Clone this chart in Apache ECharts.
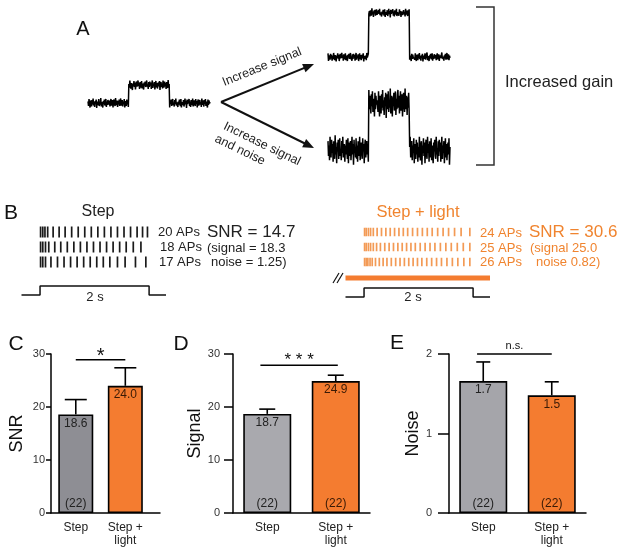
<!DOCTYPE html>
<html><head><meta charset="utf-8">
<script src="https://cdn.jsdelivr.net/npm/echarts@6/dist/echarts.min.js"></script>
<style>html,body{margin:0;padding:0;background:#fff}#c{width:617px;height:549px}</style>
</head><body><div id="c"></div>
<script>
// ---------- Panel A: schematic traces (hand-typed noise, tenths) ----------
const traceNoise = [3,-6,8,-2,-9,5,1,-7,6,-3,9,-5,2,-8,4,-1,7,-10,3,6,-4,8,-6,1,-3,10,-7,2,5,-9,4,-2,7,-5,0,8,-8,3,-4,6,
 9,-3,5,-7,2,8,-5,-1,6,-9,3,7,-2,-6,10,-4,1,5,-8,4,-3,7,-6,2,9,-5,0,6,-7,3,-2,8,-9,4,1,-6,7,-3,5,-8,
 2,-5,9,-1,-7,4,6,-10,3,-2,8,-4,5,-9,1,7,-3,-6,9,-2,4,-8,6,0,-5,8,-7,3,2,-9,5,-1,7,-4,-6,9,-3,1,-8,6,
 -4,7,-1,5,-8,2,9,-6,3,-2,6,-9,1,8,-5,4,-7,0,5,-3,8,-10,2,6,-4,3,-7,9,-1,-5,7,-2,4,-8,6,1,-6,10,-3,2,
 -9,5,-1,7,-6,3,8,-4,0,-7,6,-2,9,-5,1,4,-8,3,-3,7,-1,-6,8,-9,2,5,-4,6,-7,0,9,-3,4,-10,7,-2,1,-5,8,-6,
 3,-8,6,2,-4,9,-7,1,5,-2,-6,8,-1,4,-9,3,7,-5,0,6,-3,2,-8,9,-4,5,-1,-7,6,-2,8,-6,3,1,-9,7,-4,5,-1,2];
const traceStepOn = 80, traceStepOff = 160;     // sample indices of step on / off
const traceSignal = [1.0, 2.45, 2.6];           // baseline trace, increased signal, increased signal+noise
const traceNoiseAmp = [0.28, 0.25, 0.82];
const traceShift = [0, 71, 143];

// ---------- Panel B: spike rasters (s) ----------
const stepSpikes = [
 [0.01,0.05,0.09,0.14,0.24,0.35,0.46,0.58,0.70,0.82,0.94,1.06,1.18,1.30,1.42,1.54,1.66,1.78,1.88,1.97],
 [0.01,0.05,0.10,0.16,0.27,0.38,0.50,0.62,0.74,0.86,0.98,1.10,1.22,1.34,1.46,1.58,1.71,1.85],
 [0.01,0.05,0.10,0.20,0.32,0.44,0.56,0.68,0.80,0.92,1.04,1.16,1.28,1.42,1.56,1.75,1.94]
];
const lightSpikes = [
 [0.01,0.04,0.08,0.12,0.17,0.24,0.32,0.40,0.48,0.56,0.64,0.72,0.80,0.89,0.98,1.07,1.16,1.25,1.35,1.45,1.55,1.66,1.78,1.94],
 [0.01,0.04,0.08,0.12,0.17,0.23,0.30,0.38,0.46,0.54,0.62,0.70,0.78,0.86,0.94,1.03,1.12,1.21,1.30,1.40,1.50,1.60,1.71,1.82,1.94],
 [0.01,0.04,0.07,0.11,0.15,0.21,0.28,0.35,0.42,0.50,0.58,0.66,0.74,0.82,0.90,0.98,1.06,1.15,1.24,1.33,1.42,1.52,1.62,1.72,1.83,1.94]
];
const stimTime = [-0.34, 0, 0, 2, 2, 2.31];
const stimLevel = [0, 0, 1, 1, 0, 0];
const lightTime = [-0.34, 2.31];
const stepStats = ['SNR = 14.7', '(signal = 18.3', 'noise = 1.25)'];
const lightStats = ['SNR = 30.6', '(signal 25.0', 'noise 0.82)'];

// ---------- Panels C-E: bar data ----------
const barCategories = ['Step', 'Step +\nlight'];
const snrMean = [18.6, 24.0],  snrSem = [2.8, 3.4],  snrN = [22, null];
const sigMean = [18.7, 24.9],  sigSem = [0.9, 1.1],  sigN = [22, 22];
const noiseMean = [1.66, 1.48], noiseSem = [0.24, 0.17], noiseN = [22, 22];
const sigMarks = ['*', '* * *', 'n.s.'];

const F = '"Liberation Sans", Arial, Helvetica, sans-serif';
const ORANGE = '#f47c30', ORANGE_TXT = '#f0842f', ORANGE_TICK = '#f39a55';

const grids = [], xAxes = [], yAxes = [], series = [];
function addGrid(g, xa, ya) {
  grids.push(Object.assign({outerBoundsMode: 'none', containLabel: false}, g));
  const i = grids.length - 1;
  xAxes.push(Object.assign({gridIndex: i}, xa));
  yAxes.push(Object.assign({gridIndex: i}, ya));
  return i;
}

// Panel A traces
const traceGrids = [
  {left: 88, top: 58, width: 122, height: 72, ymin: -1.5, ymax: 2.5},
  {left: 328, top: 3, width: 122, height: 81, ymin: -1.5, ymax: 3.0},
  {left: 328, top: 69, width: 122, height: 108, ymin: -1.5, ymax: 4.5}
];
traceGrids.forEach((g, k) => {
  const gi = addGrid({left: g.left, top: g.top, width: g.width, height: g.height},
    {type: 'value', min: 0, max: traceNoise.length - 1, show: false},
    {type: 'value', min: g.ymin, max: g.ymax, show: false});
  const data = traceNoise.map((_, i) => {
    const n = traceNoise[(i + traceShift[k]) % traceNoise.length];
    const lvl = (i >= traceStepOn && i < traceStepOff) ? traceSignal[k] : 0;
    return [i, lvl + traceNoiseAmp[k] * n / 10];
  });
  series.push({type: 'line', xAxisIndex: gi, yAxisIndex: gi, data, symbol: 'none', clip: false,
    lineStyle: {color: '#000', width: 1.5}, silent: true});
});

// Panel B rasters + stimulus
function raster(left, spikes, color, h) {
  const gi = addGrid({left, top: 224.5, width: 144.5, height: 45},
    {type: 'value', min: stimTime[0], max: stimTime[stimTime.length - 1], show: false},
    {type: 'value', min: 0.5, max: 3.5, inverse: true, show: false});
  const data = [];
  spikes.forEach((row, r) => row.forEach(t => data.push([t, r + 1])));
  series.push({type: 'scatter', xAxisIndex: gi, yAxisIndex: gi, data, symbol: 'rect',
    symbolSize: [1.7, h], itemStyle: {color, opacity: 1}, silent: true});
}
function stim(left, top, height, ymax, withLight) {
  const gi = addGrid({left, top, width: 144.5, height},
    {type: 'value', min: stimTime[0], max: stimTime[stimTime.length - 1], show: false},
    {type: 'value', min: -0.5, max: ymax, show: false});
  series.push({type: 'line', xAxisIndex: gi, yAxisIndex: gi, symbol: 'none', clip: false,
    data: stimTime.map((t, i) => [t, stimLevel[i]]), lineStyle: {color: '#111', width: 1.5}, silent: true});
  if (withLight) {
    series.push({type: 'line', xAxisIndex: gi, yAxisIndex: gi, symbol: 'none', clip: false,
      data: lightTime.map(t => [t, 2.1]), lineStyle: {color: ORANGE, width: 5, cap: 'butt'}, silent: true});
  }
}
raster(21.5, stepSpikes, '#1a1a1a', 11);
raster(345.5, lightSpikes, ORANGE_TICK, 8.5);
stim(21.5, 281.5, 18, 1.5, false);
stim(345.5, 274.5, 27, 2.5, true);

// Panels C-E
const panels = [
  {left: 51, width: 109, xmax: 1.7, ymax: 30, interval: 10, mean: snrMean, sem: snrSem, n: snrN, name: 'SNR',
   nameGap: 25, tickLen: 5, labelMargin: 6, barW: 35, capW: 22, gray: '#8e8e94', sigX: [0, 1], sigY: 28.9, sigFont: 20, sigOff: 3},
  {left: 233, width: 137, xmax: 1.5, ymax: 30, interval: 10, mean: sigMean, sem: sigSem, n: sigN, name: 'Signal',
   nameGap: 27, tickLen: 9, labelMargin: 13, barW: 48, capW: 16, gray: '#a9a9ae', sigX: [-0.1, 1.03], sigY: 27.9, sigFont: 17, sigOff: 5},
  {left: 449, width: 137, xmax: 1.5, ymax: 2, interval: 1, mean: noiseMean, sem: noiseSem, n: noiseN, name: 'Noise',
   nameGap: 22, tickLen: 11, labelMargin: 17, barW: 48, capW: 14, gray: '#a5a5aa', sigX: [-0.09, 1.0], sigY: 2.0, sigFont: 11, sigOff: 8}
];
panels.forEach((p, k) => {
  const gi = addGrid({left: p.left, top: 354, width: p.width, height: 159},
    {type: 'value', min: -0.5, max: p.xmax, splitLine: {show: false},
     axisLine: {show: true, onZero: false, lineStyle: {color: '#000', width: 1.5}},
     axisTick: {show: false},
     axisLabel: {show: true, customValues: [0, 1], formatter: v => barCategories[Math.round(v)],
       fontSize: 12, color: '#222', margin: 8, lineHeight: 13, fontFamily: F}},
    {type: 'value', min: 0, max: p.ymax, interval: p.interval, splitLine: {show: false},
     axisLine: {show: true, onZero: false, lineStyle: {color: '#000', width: 1.5}},
     axisTick: {show: true, length: p.tickLen, lineStyle: {color: '#000', width: 1.5}},
     axisLabel: {fontSize: 11, color: '#333', margin: p.labelMargin, fontFamily: F},
     name: p.name, nameLocation: 'middle', nameGap: p.nameGap,
     nameTextStyle: {fontSize: 18, color: '#111', fontFamily: F}});
  const colors = [p.gray, ORANGE];
  const txtColors = ['#222', '#3a1a05'];
  series.push({type: 'bar', xAxisIndex: gi, yAxisIndex: gi, barWidth: p.barW, z: 2, silent: true,
    data: p.mean.map((v, i) => ({value: [i, v], itemStyle: {color: colors[i]}, label: {color: txtColors[i]}})),
    itemStyle: {borderColor: '#000', borderWidth: 1.6},
    label: {show: true, position: 'insideTop', distance: 3, fontSize: 12, fontFamily: F,
      formatter: q => q.value[1].toFixed(1)}});
  series.push({type: 'custom', xAxisIndex: gi, yAxisIndex: gi, z: 3, silent: true, clip: false,
    data: p.mean.map((v, i) => [i, v, v + p.sem[i]]),
    renderItem: (params, api) => {
      const a = api.coord([api.value(0), api.value(1)]);
      const b = api.coord([api.value(0), api.value(2)]);
      return {type: 'group', children: [
        {type: 'line', shape: {x1: a[0], y1: a[1], x2: b[0], y2: b[1]}, style: {stroke: '#000', lineWidth: 1.6}},
        {type: 'line', shape: {x1: b[0] - p.capW / 2, y1: b[1], x2: b[0] + p.capW / 2, y2: b[1]}, style: {stroke: '#000', lineWidth: 1.6}}
      ]};
    }});
  series.push({type: 'custom', xAxisIndex: gi, yAxisIndex: gi, z: 4, silent: true, clip: false,
    data: p.n.map((n, i) => [i, 0, n]).filter(d => d[2] != null),
    renderItem: (params, api) => {
      const i = api.value(0);
      const c = api.coord([i, 0]);
      return {type: 'text', style: {text: '(' + api.value(2) + ')', x: c[0], y: c[1] - 9, align: 'center',
        verticalAlign: 'middle', fill: txtColors[i], font: '12px ' + F}};
    }});
  series.push({type: 'custom', xAxisIndex: gi, yAxisIndex: gi, z: 4, silent: true, clip: false,
    data: [[p.sigX[0], p.sigX[1], p.sigY]],
    renderItem: (params, api) => {
      const a = api.coord([api.value(0), api.value(2)]);
      const b = api.coord([api.value(1), api.value(2)]);
      return {type: 'group', children: [
        {type: 'line', shape: {x1: a[0], y1: a[1], x2: b[0], y2: b[1]}, style: {stroke: '#000', lineWidth: 1.5}},
        {type: 'text', style: {text: sigMarks[k], x: (a[0] + b[0]) / 2, y: a[1] - p.sigOff, align: 'center',
          verticalAlign: 'middle', fill: '#111', font: p.sigFont + 'px ' + F}}
      ]};
    }});
});

// ---------- annotations ----------
function txt(text, x, y, size, opt) {
  opt = opt || {};
  return {type: 'text', x, y, rotation: opt.rot || 0, silent: true,
    style: {text, font: size + 'px ' + F, fill: opt.fill || '#111', align: opt.align || 'left', verticalAlign: 'middle'}};
}
function arrow(x1, y1, x2, y2) {
  const dx = x2 - x1, dy = y2 - y1, L = Math.hypot(dx, dy), ux = dx / L, uy = dy / L;
  const hl = 11, hw = 4.5;
  const bx = x2 - ux * hl, by = y2 - uy * hl;
  return [
    {type: 'line', silent: true, shape: {x1, y1, x2: bx + ux * 2, y2: by + uy * 2}, style: {stroke: '#111', lineWidth: 2}},
    {type: 'polygon', silent: true, shape: {points: [[x2, y2], [bx - uy * hw, by + ux * hw], [bx + uy * hw, by - ux * hw]]}, style: {fill: '#111'}}
  ];
}
const deg = Math.PI / 180;
const graphic = [
  txt('A', 83, 29, 20, {align: 'center'}),
  ...arrow(221, 102, 314, 64),
  ...arrow(221, 102, 314, 148),
  txt('Increase signal', 262, 67, 12.5, {align: 'center', rot: 22 * deg, fill: '#222'}),
  txt('Increase signal', 262, 144, 12.5, {align: 'center', rot: -26 * deg, fill: '#222'}),
  txt('and noise', 240, 150, 12.5, {align: 'center', rot: -26 * deg, fill: '#222'}),
  {type: 'polyline', silent: true, shape: {points: [[476, 7], [494, 7], [494, 165], [476, 165]]}, style: {stroke: '#333', lineWidth: 1.5, fill: null}},
  txt('Increased gain', 505, 82, 16.5, {fill: '#222'}),
  txt('B', 11, 213, 21, {align: 'center'}),
  txt('Step', 98, 212, 16, {align: 'center', fill: '#222'}),
  txt(stepSpikes[0].length + ' APs', 158, 232, 13, {fill: '#222'}),
  txt(stepSpikes[1].length + ' APs', 160, 247, 13, {fill: '#222'}),
  txt(stepSpikes[2].length + ' APs', 159, 262, 13, {fill: '#222'}),
  txt(stepStats[0], 207, 232, 17, {fill: '#222'}),
  txt(stepStats[1], 207, 248, 13, {fill: '#222'}),
  txt(stepStats[2], 211, 262, 13, {fill: '#222'}),
  txt('2 s', 95, 297, 13, {align: 'center', fill: '#222'}),
  txt('Step + light', 418, 212, 16.5, {align: 'center', fill: ORANGE_TXT}),
  txt(lightSpikes[0].length + ' APs', 480, 233, 13, {fill: ORANGE_TXT}),
  txt(lightSpikes[1].length + ' APs', 480, 248, 13, {fill: ORANGE_TXT}),
  txt(lightSpikes[2].length + ' APs', 480, 262, 13, {fill: ORANGE_TXT}),
  txt(lightStats[0], 529, 232, 17, {fill: ORANGE_TXT}),
  txt(lightStats[1], 530, 248, 13, {fill: ORANGE_TXT}),
  txt(lightStats[2], 536, 262, 13, {fill: ORANGE_TXT}),
  txt('2 s', 413, 297, 13, {align: 'center', fill: '#222'}),
  {type: 'line', silent: true, shape: {x1: 333, y1: 283, x2: 339, y2: 273}, style: {stroke: '#111', lineWidth: 1.2}},
  {type: 'line', silent: true, shape: {x1: 337, y1: 283, x2: 343, y2: 273}, style: {stroke: '#111', lineWidth: 1.2}},
  txt('C', 16, 344, 21, {align: 'center'}),
  txt('D', 181, 344, 21, {align: 'center'}),
  txt('E', 397, 343, 21, {align: 'center'})
];

const chart = echarts.init(document.getElementById('c'), null, {renderer: 'canvas', width: 617, height: 549});
chart.setOption({
  animation: false,
  backgroundColor: '#fff',
  textStyle: {fontFamily: F},
  grid: grids, xAxis: xAxes, yAxis: yAxes, series, graphic
});
</script></body></html>
